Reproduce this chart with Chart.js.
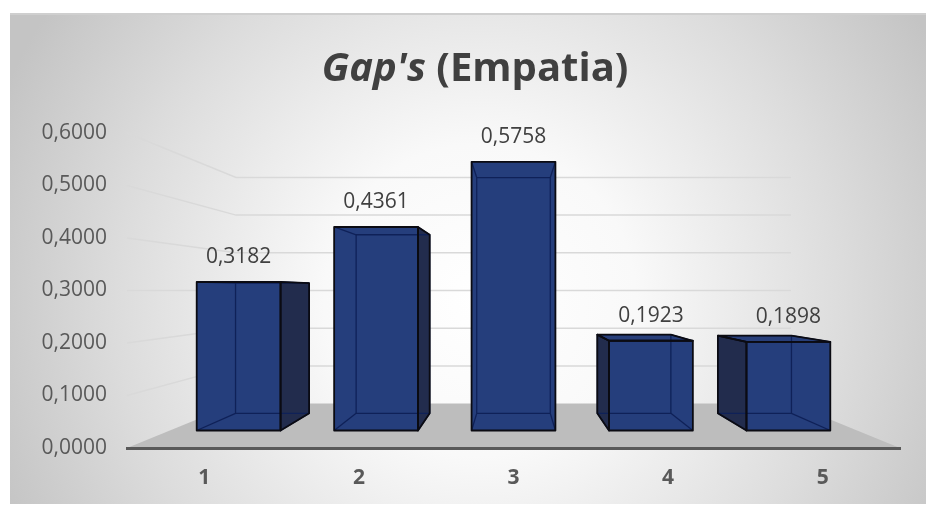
<!DOCTYPE html>
<html>
<head>
<meta charset="utf-8">
<script src="https://cdn.jsdelivr.net/npm/chart.js@4.4.1/dist/chart.umd.min.js"></script>
<style>
  html, body { margin: 0; padding: 0; background: #fff; }
  #wrap { width: 926px; height: 505px; }
</style>
</head>
<body>
<div id="wrap"><canvas id="gapChart"></canvas></div>
<script>
const categories = ["1", "2", "3", "4", "5"];
const gapValues = [0.3182, 0.4361, 0.5758, 0.1923, 0.1898];
const yTicks = [0, 0.1, 0.2, 0.3, 0.4, 0.5, 0.6];
const titleItalic = "Gap's";
const titleRest = " (Empatia)";

// 3d look: depth factors of the bar front / back and the back wall
const depth = { front: 0.889, back: 0.78, wall: 0.718 };
const eyeLevel = 0.3;

function fmt(v) {
  return Number(v).toFixed(4).replace(".", ",");
}

function view(chart) {
  const a = chart.chartArea;
  return { cx: (a.left + a.right) / 2, cy: chart.scales.y.getPixelForValue(eyeLevel) };
}

function proj(vw, x, y, s) {
  return [vw.cx + (x - vw.cx) * s, vw.cy + (y - vw.cy) * s];
}

function poly(ctx, pts) {
  ctx.beginPath();
  ctx.moveTo(pts[0][0], pts[0][1]);
  for (let i = 1; i < pts.length; i++) ctx.lineTo(pts[i][0], pts[i][1]);
  ctx.closePath();
}

const scene = {
  id: "scene",
  beforeDraw(chart) {
    const ctx = chart.ctx;
    const a = chart.chartArea;
    const vw = view(chart);
    const y = chart.scales.y;
    ctx.save();

    // background
    const g = ctx.createRadialGradient(480, 300, 0, 480, 300, 520);
    g.addColorStop(0, "#ffffff");
    g.addColorStop(0.3, "#f9f9f9");
    g.addColorStop(0.7, "#dcdcdc");
    g.addColorStop(1, "#c4c4c4");
    ctx.fillStyle = g;
    ctx.fillRect(10, 14, 916, 490);
    ctx.fillStyle = "#cfcfcf";
    ctx.fillRect(10, 13, 916, 2);

    // floor
    const base = y.getPixelForValue(0);
    ctx.fillStyle = "#bdbdbd";
    poly(ctx, [[a.left, base], [a.right, base], proj(vw, a.right, base, depth.wall), proj(vw, a.left, base, depth.wall)]);
    ctx.fill();

    // side wall + back wall gridlines
    ctx.strokeStyle = "#d9d9d9";
    ctx.lineWidth = 1.5;
    yTicks.forEach(v => {
      if (v === 0) return;
      const py = y.getPixelForValue(v);
      const p1 = proj(vw, a.left, py, depth.wall);
      const p2 = proj(vw, a.right, py, depth.wall);
      ctx.beginPath();
      ctx.moveTo(a.left, py);
      ctx.lineTo(p1[0], p1[1]);
      ctx.lineTo(p2[0], p2[1]);
      ctx.stroke();
    });

    // title, with the italic part
    const size = 40;
    ctx.fillStyle = "#404040";
    ctx.textBaseline = "alphabetic";
    ctx.textAlign = "left";
    ctx.font = "italic bold " + size + 'px "Open Sans"';
    const w1 = ctx.measureText(titleItalic).width;
    ctx.font = "bold " + size + 'px "Open Sans"';
    const w2 = ctx.measureText(titleRest).width;
    const x0 = 475 - (w1 + w2) / 2;
    ctx.font = "italic bold " + size + 'px "Open Sans"';
    ctx.fillText(titleItalic, x0, 81);
    ctx.font = "bold " + size + 'px "Open Sans"';
    ctx.fillText(titleRest, x0 + w1, 81);
    ctx.restore();
  },
  afterDatasetsDraw(chart) {
    const ctx = chart.ctx;
    const vw = view(chart);
    const meta = chart.getDatasetMeta(0);
    ctx.save();
    ctx.lineJoin = "round";
    meta.data.forEach((bar, i) => {
      const p = bar.getProps(["x", "y", "base", "width"], true);
      const hw = p.width / 2;
      const xl = p.x - hw, xr = p.x + hw, yt = p.y, yb = p.base;
      const F = [proj(vw, xl, yt, depth.front), proj(vw, xr, yt, depth.front), proj(vw, xr, yb, depth.front), proj(vw, xl, yb, depth.front)];
      const B = [proj(vw, xl, yt, depth.back), proj(vw, xr, yt, depth.back), proj(vw, xr, yb, depth.back), proj(vw, xl, yb, depth.back)];
      const faces = [
        { pts: [F[0], B[0], B[3], F[3]], vis: xl > vw.cx, col: "#222c4d" },
        { pts: [F[1], B[1], B[2], F[2]], vis: xr < vw.cx, col: "#222c4d" },
        { pts: [F[0], F[1], B[1], B[0]], vis: yt > vw.cy, col: "#283f7a" },
        { pts: [F[3], F[2], B[2], B[3]], vis: yb < vw.cy, col: "#283f7a" }
      ];

      ctx.fillStyle = "#243c79";
      poly(ctx, B); ctx.fill();
      faces.filter(f => !f.vis).forEach(f => { ctx.fillStyle = "#243c79"; poly(ctx, f.pts); ctx.fill(); });
      faces.filter(f => f.vis).forEach(f => { ctx.fillStyle = f.col; poly(ctx, f.pts); ctx.fill(); });
      ctx.fillStyle = "#253e7c";
      poly(ctx, F); ctx.fill();

      // edges seen through the bar
      ctx.strokeStyle = "#0f2158";
      ctx.lineWidth = 1.3;
      poly(ctx, B); ctx.stroke();
      for (let k = 0; k < 4; k++) {
        ctx.beginPath();
        ctx.moveTo(F[k][0], F[k][1]);
        ctx.lineTo(B[k][0], B[k][1]);
        ctx.stroke();
      }

      // outline
      ctx.strokeStyle = "#0b0b12";
      ctx.lineWidth = 1.8;
      faces.filter(f => f.vis).forEach(f => { poly(ctx, f.pts); ctx.stroke(); });
      poly(ctx, F); ctx.stroke();

      // value label
      ctx.fillStyle = "#404040";
      ctx.font = '21px "Open Sans"';
      ctx.textAlign = "center";
      ctx.textBaseline = "middle";
      ctx.fillText(fmt(gapValues[i]), (F[0][0] + F[1][0]) / 2, F[0][1] - 25);
    });
    ctx.restore();
  }
};

new Chart(document.getElementById("gapChart"), {
  type: "bar",
  data: {
    labels: categories,
    datasets: [{
      label: "Gap's (Empatia)",
      data: gapValues,
      backgroundColor: "rgba(0,0,0,0)",
      borderWidth: 0,
      categoryPercentage: 1,
      barPercentage: 0.61
    }]
  },
  options: {
    responsive: true,
    maintainAspectRatio: false,
    animation: false,
    layout: { padding: { top: 133, right: 26, left: 0, bottom: 0 } },
    plugins: {
      legend: { display: false },
      title: { display: false },
      tooltip: { enabled: false }
    },
    scales: {
      x: {
        afterFit: s => { s.height = 57; },
        grid: { display: false, drawTicks: false },
        border: { display: true, color: "#595959", width: 3 },
        ticks: {
          padding: 17,
          color: "#595959",
          font: { family: "Open Sans", size: 21, weight: "bold" }
        }
      },
      y: {
        min: 0,
        max: 0.6,
        afterFit: s => { s.width = 127; },
        afterBuildTicks: s => { s.ticks = yTicks.map(v => ({ value: v })); },
        grid: { display: false, drawTicks: false },
        border: { display: false },
        ticks: {
          padding: 20,
          color: "#595959",
          font: { family: "Open Sans", size: 21 },
          callback: v => fmt(v)
        }
      }
    }
  },
  plugins: [scene]
});
</script>
</body>
</html>
